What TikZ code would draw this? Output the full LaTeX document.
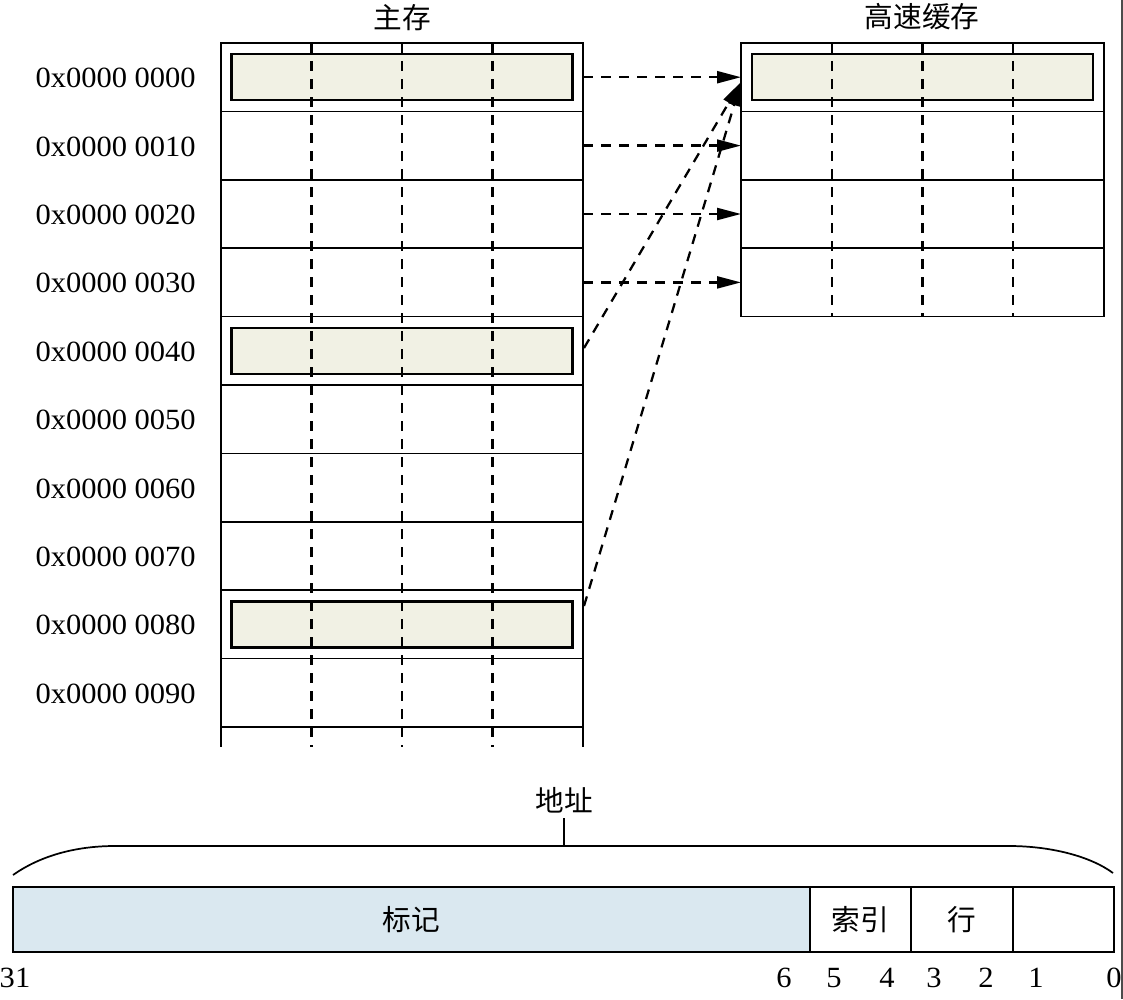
\documentclass[tikz,border=0pt]{standalone}
\usepackage{fontspec}
\setmainfont{Liberation Serif}
\newfontfamily\lbl[FakeStretch=1.04]{Liberation Serif}
\newfontfamily\cjk{Noto Sans CJK SC}
\usetikzlibrary{arrows.meta}
\definecolor{beige}{HTML}{F1F1E4}
\definecolor{tagblue}{HTML}{DAE8F0}
\begin{document}
\begin{tikzpicture}[x=0.75pt,y=-0.75pt,
  rowbox/.style={draw, line width=1.3pt, minimum width=271.5pt, minimum height=51.3pt, inner sep=0pt, outer sep=0pt},
  crowbox/.style={rowbox, minimum width=272.25pt},
  hl/.style={draw, line width=1.9pt, fill=beige, minimum width=255.75pt, minimum height=34.5pt, inner sep=0pt},
  colline/.style={dash pattern=on 7.5pt off 6pt, line width=1.8pt},
  conn/.style={dash pattern=on 7.5pt off 6pt, line width=1.7pt, -{Triangle[length=18pt,width=9pt]}},
  addr/.style={font=\lbl\fontsize{22}{26}\selectfont, anchor=east, inner sep=0pt},
  bit/.style={font=\lbl\fontsize{22}{26}\selectfont, inner sep=0pt},
  title/.style={font=\cjk\fontsize{21.5}{25}\selectfont, inner sep=0pt},
  field/.style={draw, line width=1.4pt, minimum height=48.75pt, inner sep=0pt, outer sep=0pt, font=\cjk\fontsize{21.5}{25}\selectfont}
]
\useasboundingbox (0,0) rectangle (1123,999);

% main memory rows
\foreach \i in {0,...,9}
  \node[rowbox] (m\i) at (402, {77.2+68.4*\i}) {};
\draw[line width=1.3pt] (m9.south west) -- ++(0,20);
\draw[line width=1.3pt] (m9.south east) -- ++(0,20);

% cache rows
\foreach \i in {0,...,3}
  \node[crowbox] (c\i) at (922.5, {77.2+68.4*\i}) {};

% highlighted lines
\node[hl] (h0) at (m0.center) {};
\node[hl] (h4) at (m4.center) {};
\node[hl] (h8) at (m8.center) {};
\node[hl] (hc) at (c0.center) {};

% dashed column dividers
\foreach \x in {311.5,402,492.5}
  \draw[colline] (\x,43) -- (\x,747);
\foreach \x in {831.75,922.5,1013.25}
  \draw[colline] (\x,43) -- (\x,317);

% titles
\node[title] (tm) at (402,18) {主存};
\node[title] (tc) at (922,17) {高速缓存};

% address labels
\foreach \i/\t in {0/0000,1/0010,2/0020,3/0030,4/0040,5/0050,6/0060,7/0070,8/0080,9/0090}
  \node[addr] (l\i) at (196, {78+68.4*\i}) {0x0000 \t};

% connectors
\foreach \i in {0,...,3}
  \draw[conn] (m\i.east) -- (c\i.west);
\coordinate (s4) at (584,348);
\coordinate (s8) at (584,606);
\coordinate (t0) at (741,82);
\draw[conn] (s4) -- (t0);
\draw[conn] (s8) -- (t0);

% address word
\node[title] (al) at (564,800) {地址};
\coordinate (tk) at (564,846);
\draw[line width=1.3pt] (564,818) -- (tk);
\draw[line width=1.3pt] (13,875) .. controls (40,856) and (75,846) .. (115,846) -- (tk) -- (1009,846) .. controls (1050,846) and (1090,856) .. (1113,873);

\node[field, fill=tagblue, minimum width=597.75pt] (ftag) at (411.5,919.5) {标记};
\node[field, minimum width=75.75pt] (fidx) at (860.5,919.5) {索引};
\node[field, minimum width=76.5pt] (frow) at (962,919.5) {行};
\node[field, minimum width=75.75pt] (foff) at (1063.5,919.5) {};

% bit numbers
\node[bit] (b31) at (15,978) {31};
\node[bit] (b6) at (784,978) {6};
\node[bit] (b5) at (834,978) {5};
\node[bit] (b4) at (887,978) {4};
\node[bit] (b3) at (934,978) {3};
\node[bit] (b2) at (986,978) {2};
\node[bit] (b1) at (1036,978) {1};
\node[bit] (b0) at (1114,978) {0};

% right edge rule
\draw[line width=0.9pt, black!70] (1122,0) -- (1122,999);
\end{tikzpicture}
\end{document}
